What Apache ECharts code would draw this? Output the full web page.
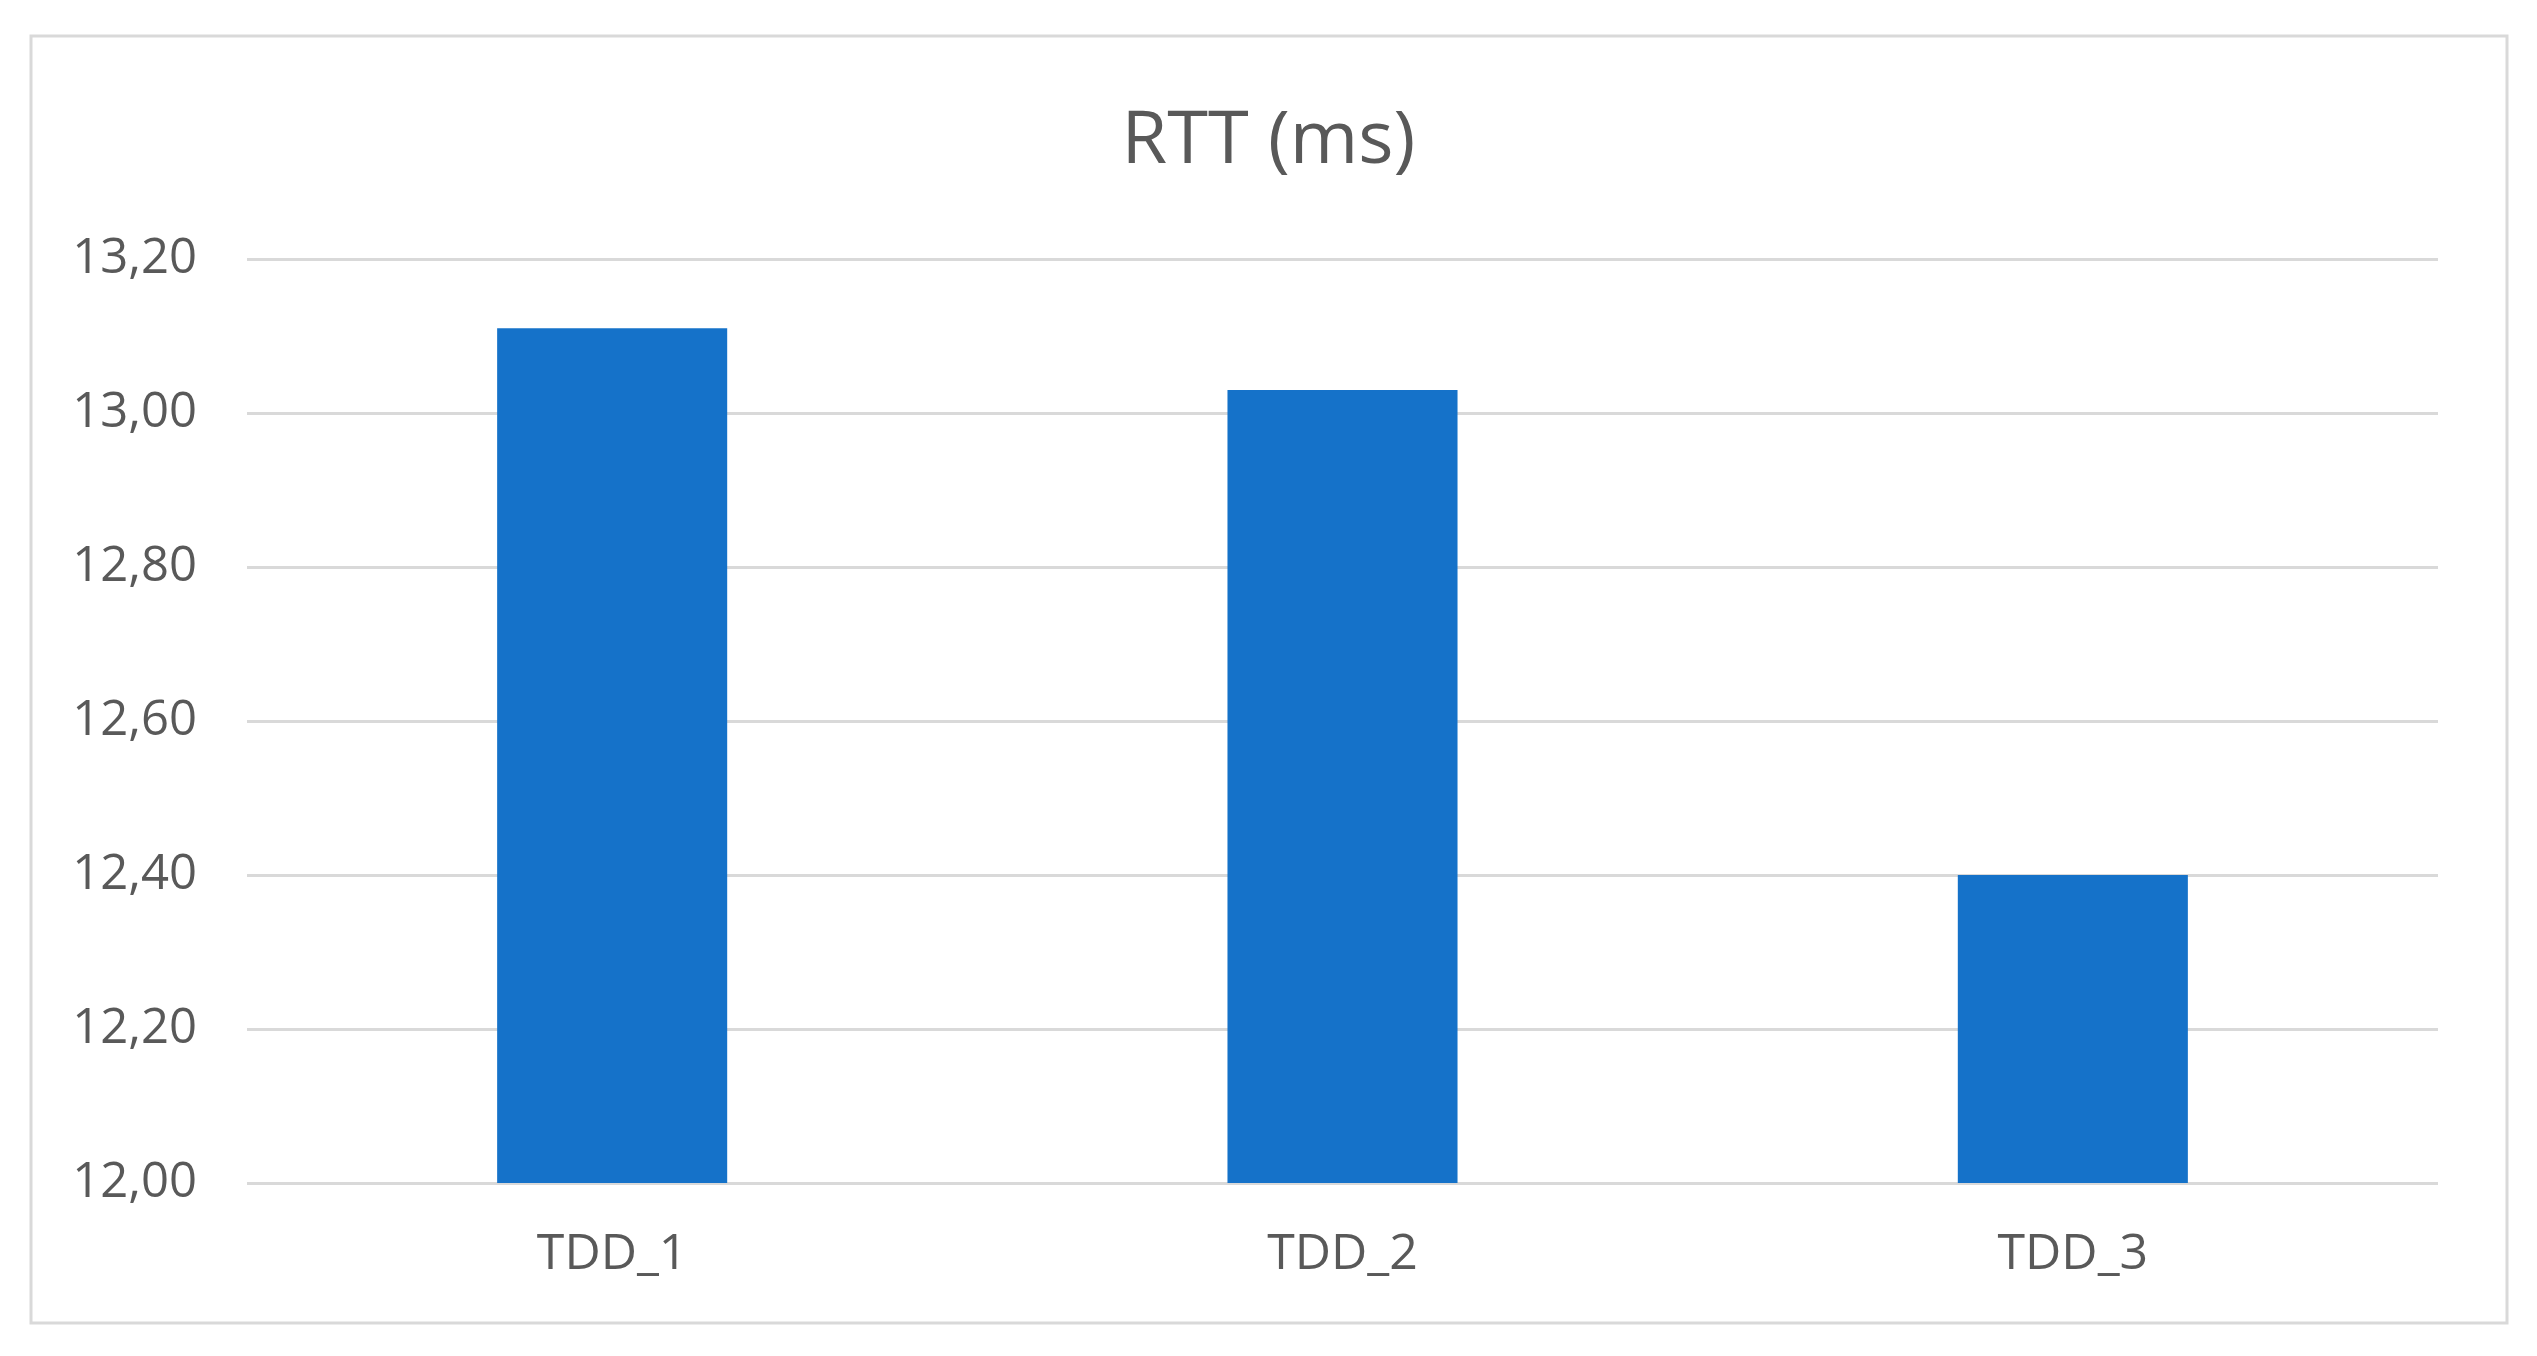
<!DOCTYPE html>
<html>
<head>
<meta charset="utf-8">
<script src="https://cdn.jsdelivr.net/npm/echarts@6/dist/echarts.min.js"></script>
<style>
html,body{margin:0;padding:0;background:#fff;}
#c{width:2537px;height:1356px;}
</style>
</head>
<body>
<div id="c"></div>
<script>
const categories = ['TDD_1', 'TDD_2', 'TDD_3'];
const rttValues = [13.11, 13.03, 12.40];
const yTicks = { min: 12.0, max: 13.2, interval: 0.2 };
const titleText = 'RTT (ms)';

const chart = echarts.init(document.getElementById('c'), null, { renderer: 'canvas' });
chart.setOption({
  backgroundColor: '#ffffff',
  animation: false,
  title: {
    text: titleText,
    left: 'center',
    top: 99,
    textStyle: { fontFamily: 'Open Sans', fontSize: 74, fontWeight: 'normal', color: '#595959', lineHeight: 76 }
  },
  graphic: [{
    type: 'rect',
    shape: { x: 31, y: 36, width: 2476, height: 1287 },
    style: { fill: 'none', stroke: '#d9d9d9', lineWidth: 3 },
    silent: true
  }],
  grid: { left: 247, right: 2537 - 2438, top: 259, bottom: 1356 - 1183, containLabel: false },
  xAxis: {
    type: 'category',
    data: categories,
    axisLine: { show: false },
    axisTick: { show: false },
    axisLabel: { margin: 47, fontFamily: 'Open Sans', fontSize: 50, color: '#595959' }
  },
  yAxis: {
    type: 'value',
    min: yTicks.min,
    max: yTicks.max,
    interval: yTicks.interval,
    axisLine: { show: false },
    axisTick: { show: false },
    axisLabel: {
      margin: 50,
      fontFamily: 'Open Sans', fontSize: 49, color: '#595959',
      formatter: v => v.toFixed(2).replace('.', ',')
    },
    splitLine: { lineStyle: { color: '#d9d9d9', width: 3 } }
  },
  series: [{
    type: 'bar',
    data: rttValues,
    barWidth: '31.5%',
    itemStyle: { color: '#1572c9' }
  }]
});
</script>
</body>
</html>
